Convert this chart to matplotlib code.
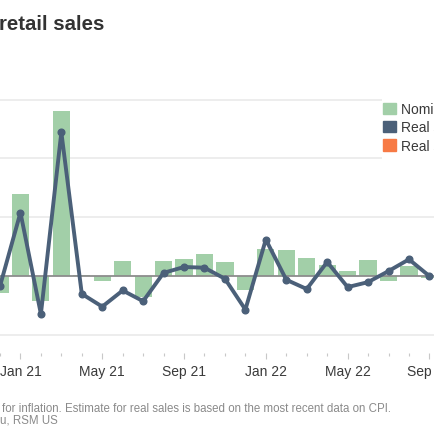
import numpy as np
import matplotlib
matplotlib.use("Agg")
import matplotlib.pyplot as plt
from matplotlib.patches import Patch, Rectangle

# ------------------ DATA ------------------

months = ['Dec 20', 'Jan 21', 'Feb 21', 'Mar 21', 'Apr 21', 'May 21', 'Jun 21', 'Jul 21',
          'Aug 21', 'Sep 21', 'Oct 21', 'Nov 21', 'Dec 21', 'Jan 22', 'Feb 22', 'Mar 22',
          'Apr 22', 'May 22', 'Jun 22', 'Jul 22', 'Aug 22', 'Sep 22']
nominal = [-1.2, 5.57, -1.7, 11.25, 0.05, -0.36, 1.0, -1.46, 1.0, 1.12, 1.5, 0.94,
           -0.96, 1.85, 1.78, 1.23, 0.75, 0.36, 1.07, -0.36, 0.7, -0.14]
real = [-0.7, 4.3, -2.6, 9.77, -1.23, -2.1, -1.0, -1.73, 0.2, 0.6, 0.55, -0.2,
        -2.3, 2.47, -0.27, -0.9, 0.94, -0.77, -0.43, 0.32, 1.12, -0.02]
label_months = ['Jan 21', 'May 21', 'Sep 21', 'Jan 22', 'May 22', 'Sep 22']
y_grid = [-4, 4, 8, 12]
legend_labels = ['Nominal sales', 'Real sales', 'Real sales (estimate)']

# ------------------ STYLE ------------------

plt.rcParams['font.family'] = ['Liberation Sans', 'DejaVu Sans']
green = '#a2cfa8'
navy = '#4b6079'
orange = '#f77a45'

W = 435.0
fig = plt.figure(figsize=(4.35, 4.35), dpi=100)
renderer = fig.canvas.get_renderer()

def fit_width(txt, width_px):
    # scale a text so that it spans the given number of pixels
    bb = txt.get_window_extent(renderer)
    txt.set_fontsize(txt.get_fontsize() * width_px / bb.width)

# axes placed in pixels, left part of the chart is cropped off
x0, dx = 11.3, 20.9          # pixel of first label month, pixels per month
zero_px, per_pct = 276.8, 14.69
bot_px, top_px = 354.0, 95.0
ax = fig.add_axes([0, 1 - bot_px / W, 1, (bot_px - top_px) / W])

x = np.arange(len(months)) - 1   # Jan 21 -> 0
ax.set_xlim((0 - x0) / dx, (W - x0) / dx)
ax.set_ylim((zero_px - bot_px) / per_pct, (zero_px - top_px) / per_pct)

for g in y_grid:
    ax.axhline(g, color='#e8e8e8', lw=1.1, zorder=0)

ax.bar(x, nominal, width=0.84, color=green, zorder=1)
ax.axhline(0, color='#8c8c8c', lw=1.3, zorder=2)
ax.plot(x, real, color=navy, lw=2.8, marker='o', ms=4.8, zorder=3,
        solid_joinstyle='round')

for s in ax.spines.values():
    s.set_visible(False)
ax.set_yticks([])

major = [months.index(m) - 1 for m in label_months]
ax.set_xticks(major)
ax.set_xticklabels(label_months)
ax.set_xticks(x, minor=True)
ax.tick_params(axis='x', which='major', length=4, width=0.8, color='#c8c8c8',
               labelsize=10, labelcolor='#3a3a3a', pad=4)
ax.tick_params(axis='x', which='minor', length=2, width=0.8, color='#c8c8c8')

# legend sits on a white box covering the grid on the right
fig.patches.append(Rectangle((382 / W, 1 - 166 / W), 60 / W, 74 / W,
                             transform=fig.transFigure, facecolor='white',
                             edgecolor='none', zorder=3))
handles = [Patch(color=green), Patch(color=navy), Patch(color=orange)]
fig.legend(handles, legend_labels, loc='upper left',
           bbox_to_anchor=(382 / W, 1 - 101.5 / W), frameon=False, fontsize=10,
           handlelength=0.9, handleheight=0.85, handletextpad=0.35,
           labelspacing=0.32, borderpad=0.1, borderaxespad=0,
           labelcolor='#3a3a3a')

title = fig.text(-0.002, 1 - 25 / W, 'retail sales', fontsize=14.6,
                 fontweight='bold', color='#333333', va='center', ha='left')
fit_width(title, 105)
note = fig.text(2 / W, 1 - 409 / W,
                'for inflation. Estimate for real sales is based on the most recent data on CPI.',
                fontsize=7.6, color='#8a8a8a', va='center', ha='left')
fit_width(note, 389)
fig.text(0, 1 - 421 / W, 'u, RSM US', fontsize=note.get_fontsize(), color='#8a8a8a',
         va='center', ha='left')

fig.savefig('out.png', dpi=100)
